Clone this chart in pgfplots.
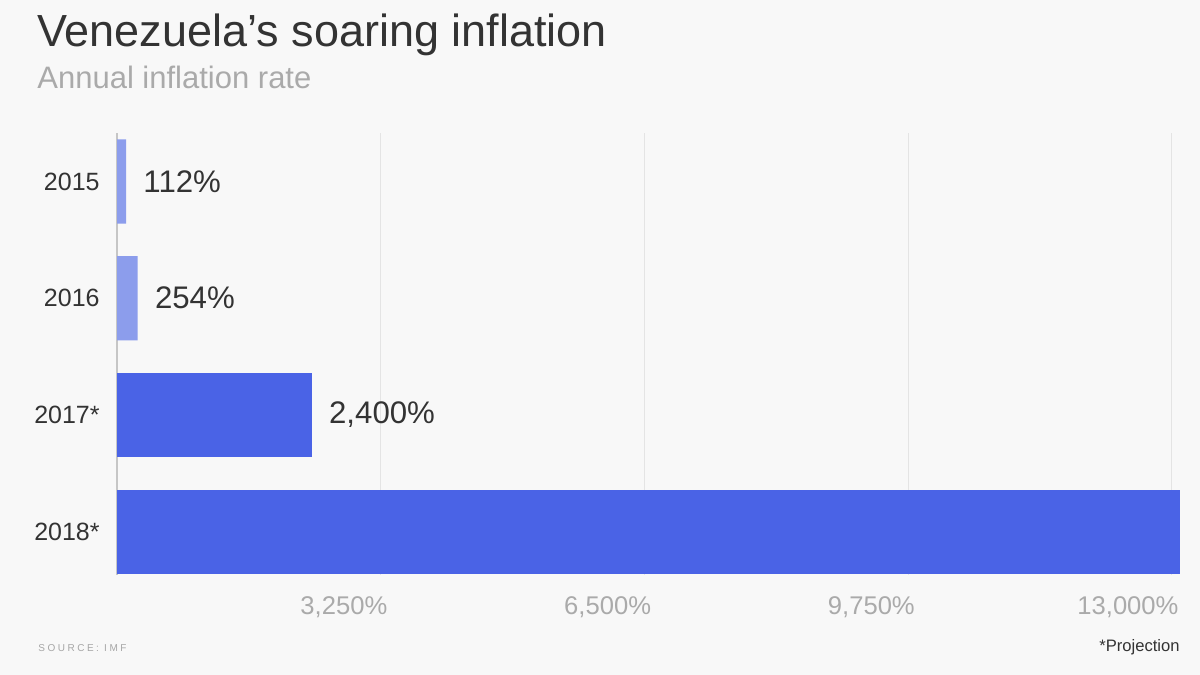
\documentclass[border=0pt]{standalone}
\usepackage{pgfplots}
\pgfplotsset{compat=1.18}
\usepackage{fontspec}
\setmainfont{Liberation Sans}
\definecolor{bg}{HTML}{F8F8F8}
\definecolor{darkbar}{HTML}{4A63E6}
\definecolor{lightbar}{HTML}{8C9DEC}
\definecolor{txt}{HTML}{333333}
\definecolor{sub}{HTML}{AAAAAA}
\definecolor{gridc}{HTML}{E4E4E4}
\begin{document}
\begin{tikzpicture}
\fill[bg] (0,0) rectangle (600pt,337.5pt);
\useasboundingbox (0,0) rectangle (600pt,337.5pt);
\node[anchor=base west, inner sep=0, text=txt, font=\fontsize{22.5}{26}\selectfont] at (18.5pt,314pt) {Venezuela’s soaring inflation};
\node[anchor=base west, inner sep=0, text=sub, font=\fontsize{15.5}{18}\selectfont] at (18.5pt,293pt) {Annual inflation rate};
\begin{axis}[
  at={(58.5pt,50pt)}, anchor=south west,
  scale only axis, width=531.5pt, height=221pt,
  xbar, bar width=0.72, bar shift=0pt,
  xmin=0, xmax=13100,
  ymin=-0.415, ymax=3.37, y dir=reverse,
  scaled x ticks=false,
  axis y line=left, axis x line=bottom,
  axis line style={-},
  x axis line style={draw=none},
  y axis line style={draw=gray!45, line width=0.6pt},
  ytick={0,1,2,3}, yticklabels={2015,2016,2017*,2018*},
  xtick={3250,6500,9750,13000},
  xticklabels={3{,}250\%,6{,}500\%,9{,}750\%,13{,}000\%},
  major tick length=0pt,
  xmajorgrids, grid style={draw=gridc, line width=0.6pt},
  yticklabel style={font=\fontsize{12.5}{15}\selectfont, text=txt, anchor=east, inner sep=0pt, xshift=-8.5pt},
  xticklabel style={font=\fontsize{12.8}{15}\selectfont, text=sub, anchor=north east, inner sep=0pt, xshift=3.5pt, yshift=-10.5pt},
  point meta=explicit symbolic,
  every node near coord/.style={font=\fontsize{15.6}{18}\selectfont, text=txt, anchor=west, inner sep=0pt, xshift=8.5pt},
]
\addplot[draw=none, fill=lightbar, nodes near coords] coordinates {(112,0) [112\%] (254,1) [254\%]};
\addplot[draw=none, fill=darkbar, nodes near coords] coordinates {(2400,2) [2{,}400\%]};
\addplot[draw=none, fill=darkbar] coordinates {(13100,3)};
\end{axis}
\node[anchor=base west, inner sep=0, text=gray!70, font=\fontsize{5}{6}\selectfont\addfontfeatures{LetterSpace=25}] at (19pt,12pt) {SOURCE: IMF};
\node[anchor=base east, inner sep=0, text=txt, font=\fontsize{8.3}{10}\selectfont] at (590pt,12pt) {*Projection};
\end{tikzpicture}
\end{document}
